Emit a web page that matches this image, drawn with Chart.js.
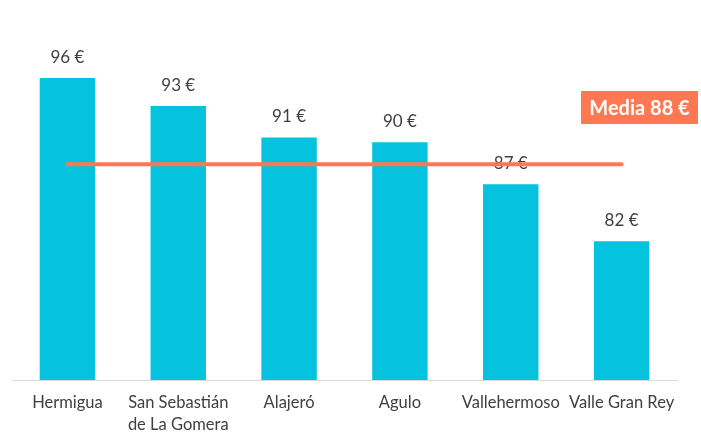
<!DOCTYPE html>
<html>
<head>
<meta charset="utf-8">
<script src="https://cdn.jsdelivr.net/npm/chart.js@4"></script>
<style>
  html, body { margin: 0; padding: 0; background: #fff; }
  #wrap { width: 701px; height: 432px; }
</style>
</head>
<body>
<div id="wrap"><canvas id="grafico" width="701" height="432"></canvas></div>
<script>
const municipios = ['Hermigua', ['San Sebastián', 'de La Gomera'], 'Alajeró', 'Agulo', 'Vallehermoso', 'Valle Gran Rey'];
const precios = [95.7, 93.3, 90.6, 90.2, 86.6, 81.7];
const media = 88.3;
const lineaMedia = municipios.map(() => media);

const corBarra = '#05c3de';
const corMedia = '#ff7852';
const corTexto = '#404040';

const etiquetas = {
    id: 'etiquetas',
    afterDatasetDraw(chart, args) {
        if (args.index !== 0) return; // so a barra, antes da linha da media
        const ctx = chart.ctx;
        ctx.save();
        ctx.font = '17px Lato';
        ctx.fillStyle = corTexto;
        ctx.textAlign = 'center';
        ctx.textBaseline = 'middle';
        args.meta.data.forEach((bar, i) => {
            ctx.fillText(Math.round(precios[i]) + ' €', bar.x, bar.y - 21);
        });
        ctx.restore();
    },
    afterDraw(chart) {
        const ctx = chart.ctx;
        const area = chart.chartArea;
        const texto = 'Media ' + Math.round(media) + ' €';
        const x1 = area.right + 21, y0 = area.top + 63, h = 33;
        ctx.save();
        ctx.fillStyle = corMedia;
        ctx.fillRect(x1 - 117, y0, 117, h);
        ctx.font = 'bold 20px Lato';
        ctx.fillStyle = '#fff';
        ctx.textAlign = 'center';
        ctx.textBaseline = 'middle';
        ctx.fillText(texto, x1 - 58.5, y0 + h / 2 + 1);
        ctx.restore();
    }
};

new Chart(document.getElementById('grafico').getContext('2d'), {
    type: 'bar',
    data: {
        labels: municipios,
        datasets: [
            {
                data: precios,
                backgroundColor: corBarra,
                barPercentage: 0.5,
                categoryPercentage: 1,
                order: 2
            },
            {
                type: 'line',
                data: lineaMedia,
                borderColor: corMedia,
                borderWidth: 4,
                borderCapStyle: 'round',
                pointRadius: 0,
                fill: false,
                order: 1
            }
        ]
    },
    options: {
        responsive: false,
        animation: false,
        layout: { padding: { top: 28, left: 12, right: 24, bottom: 0 } },
        plugins: { legend: { display: false }, tooltip: { enabled: false } },
        scales: {
            x: {
                grid: { display: false, drawTicks: false },
                border: { display: true, color: '#d9d9d9', width: 1 },
                ticks: { color: corTexto, font: { family: 'Lato', size: 16.5, lineHeight: 1.32 }, padding: 12, maxRotation: 0, autoSkip: false },
                afterFit: (scale) => { scale.height = 52; }
            },
            y: {
                display: false,
                min: 69.8,
                max: 100
            }
        }
    },
    plugins: [etiquetas]
});
</script>
</body>
</html>
